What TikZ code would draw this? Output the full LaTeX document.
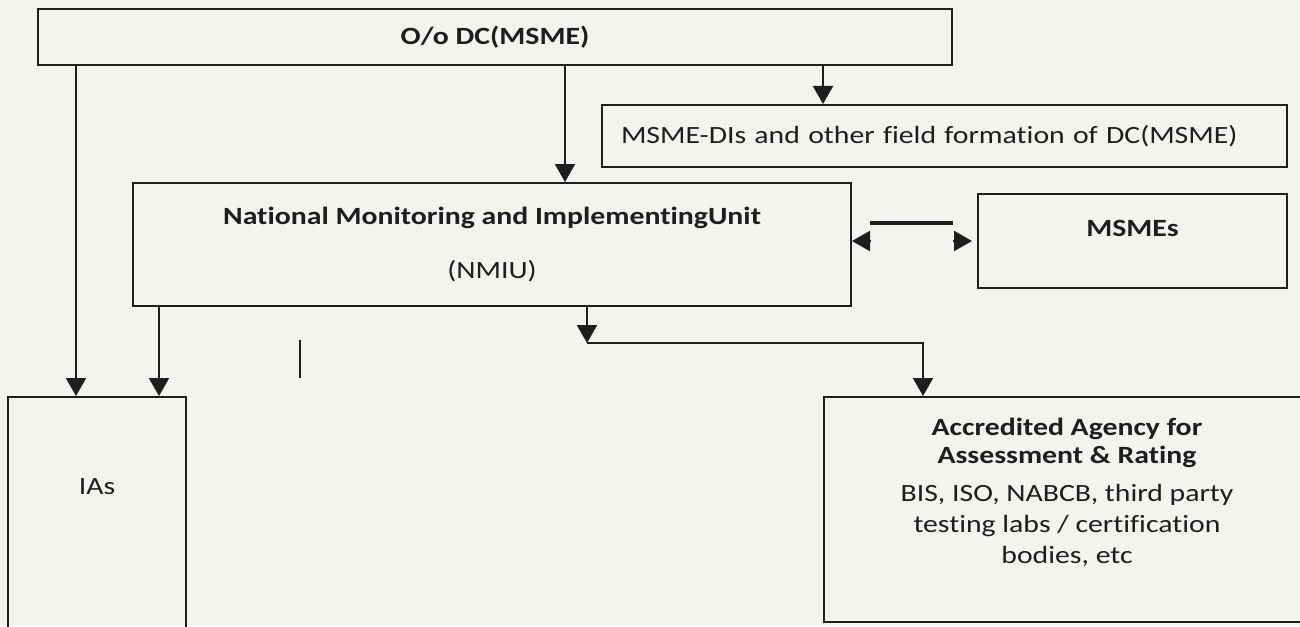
\documentclass[tikz,border=0pt]{standalone}
\usepackage{fontspec}
\setmainfont{Carlito}[FakeStretch=1.2, Ligatures=NoCommon]
\usepackage{tikz}
\usetikzlibrary{arrows.meta}
\definecolor{paper}{RGB}{243,243,240}
\definecolor{ink}{RGB}{30,30,30}
\newcommand{\boxfont}{\fontsize{12.4}{14}\selectfont}

\begin{document}
\begin{tikzpicture}[
		x=0.5pt, y=-0.5pt, % one unit = one pixel of the scan
		every node/.style={font=\boxfont, text=ink},
		box/.style={draw=ink, line width=1pt, inner sep=0pt, align=center},
		arr/.style={draw=ink, line width=1pt, -{Triangle[length=9pt,width=10pt]}},
		inlabel/.style={anchor=north, inner sep=0pt, align=center}
	]
	\useasboundingbox (0,0) rectangle (1300,626);
	\fill[paper] (0,0) rectangle (1300,626);

	\node[box, minimum width=457pt, minimum height=28pt, font=\boxfont\bfseries] (DC) at (495,37) {O/o DC(MSME)};
	\node[box, text width=323.5pt, inner xsep=9.5pt, minimum height=31pt, align=left] (MSMEDI) at (944.5,136) {MSME-DIs and other field formation of DC(MSME)};
	\node[box, minimum width=359pt, minimum height=61.5pt] (NMIU) at (492,244.5) {\textbf{National Monitoring and ImplementingUnit}\\[13pt](NMIU)};
	\node[box, minimum width=154.5pt, minimum height=47pt,
		label={[inlabel, font=\boxfont\bfseries, yshift=-13.5pt]north:MSMEs}] (MSMEs) at (1132.5,241) {};
	\node[box, minimum width=89pt, minimum height=121.5pt,
		label={[inlabel, yshift=-41pt]north:IAs}] (IAs) at (97,518.5) {};
	\node[box, minimum width=243pt, minimum height=112.5pt,
		label={[inlabel, yshift=-11pt]north:{\textbf{Accredited Agency for}\\\textbf{Assessment \& Rating}\\[5pt]BIS, ISO, NABCB, third party\\[1.5pt]testing labs / certification\\[1.5pt]bodies, etc}}] (AAR) at (1067,509.5) {};

	% arrows out of the top office
	\draw[arr] ([xshift=19.5pt]DC.south west) coordinate (s1) -- (s1 |- IAs.north);
	\coordinate (s2) at ([xshift=216.5pt]NMIU.north west);
	\draw[arr] (s2 |- DC.south) -- (s2);
	\coordinate (s3) at ([xshift=111pt]MSMEDI.north west);
	\draw[arr] (s3 |- DC.south) -- (s3);

	% NMIU down to IAs and to the agency
	\coordinate (s4) at ([xshift=76pt]IAs.north west);
	\draw[arr] (s4 |- NMIU.south) -- (s4);
	\coordinate (split) at ([xshift=227.5pt,yshift=-18pt]NMIU.south west);
	\draw[arr] (split |- NMIU.south) -- (split);
	\draw[arr] (split) -| ([xshift=50pt]AAR.north west);

	% NMIU <-> MSMEs
	\draw[draw=ink, line width=1.6pt] ([xshift=-53.5pt,yshift=9pt]MSMEs.west) -- ([xshift=-12pt,yshift=9pt]MSMEs.west);
	\draw[arr] ([xshift=-53pt]MSMEs.west) -- ([xshift=-62.5pt]MSMEs.west);
	\draw[arr] ([xshift=-12pt]MSMEs.west) -- ([xshift=-2.5pt]MSMEs.west);

	% stray tick below NMIU
	\draw[draw=ink, line width=1pt] (300,340) -- (300,378);
\end{tikzpicture}
\end{document}
